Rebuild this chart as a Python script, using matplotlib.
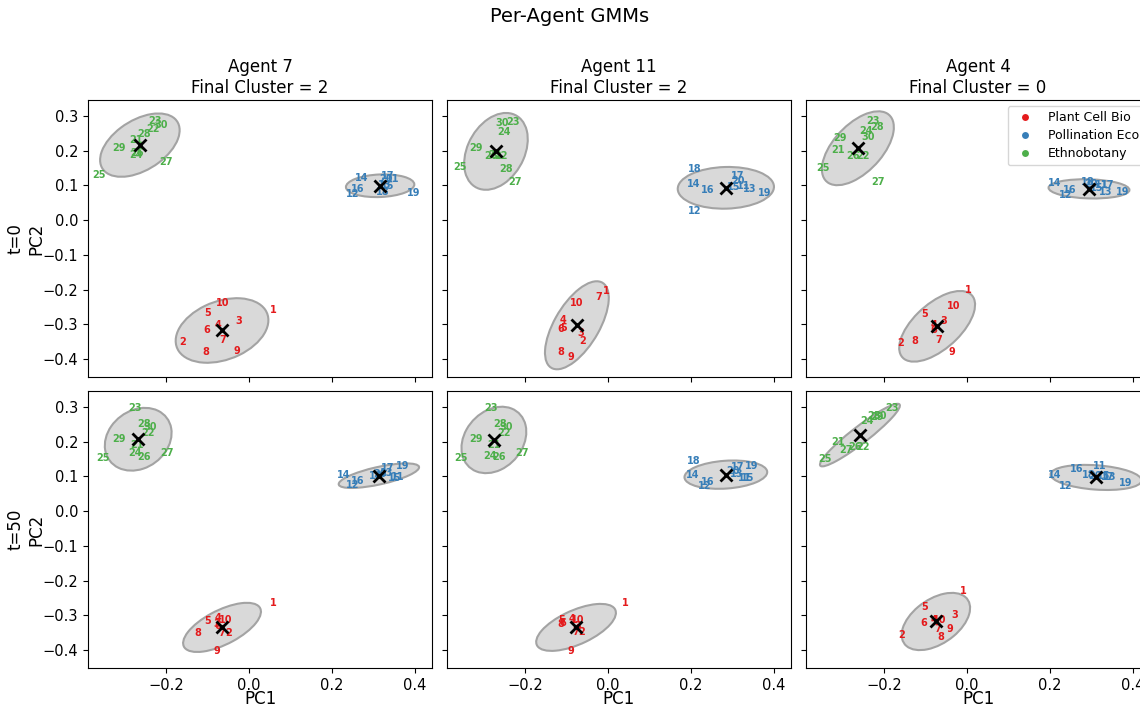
import numpy as np
import matplotlib
matplotlib.use("Agg")
import matplotlib.pyplot as plt
from matplotlib.patches import Ellipse
from matplotlib.lines import Line2D

# point labels 1..30, grouped by field
labels = list(range(1, 31))
groups = ["Plant Cell Bio", "Pollination Eco", "Ethnobotany"]
group_colors = ["#e41a1c", "#377eb8", "#4daf4a"]

agents = [7, 11, 4]
final_clusters = [2, 2, 0]
times = [0, 50]

# PC coordinates per panel (index = label - 1)
x_a7_t0 = [0.058, -0.159, -0.024, -0.075, -0.099, -0.101, -0.063, -0.104, -0.029, -0.063,
           0.347, 0.251, 0.328, 0.272, 0.335, 0.263, 0.335, 0.323, 0.398, 0.330,
           -0.272, -0.231, -0.227, -0.272, -0.361, -0.270, -0.200, -0.253, -0.313, -0.212]
y_a7_t0 = [-0.259, -0.350, -0.292, -0.303, -0.268, -0.318, -0.344, -0.379, -0.376, -0.239,
           0.117, 0.076, 0.102, 0.122, 0.099, 0.090, 0.128, 0.082, 0.079, 0.117,
           0.230, 0.262, 0.286, 0.187, 0.131, 0.192, 0.166, 0.248, 0.207, 0.274]

x_a11_t0 = [-0.005, -0.060, -0.065, -0.108, -0.108, -0.113, -0.022, -0.113, -0.089, -0.075,
            0.328, 0.210, 0.342, 0.207, 0.304, 0.241, 0.313, 0.210, 0.378, 0.313,
            -0.272, -0.258, -0.229, -0.251, -0.357, -0.282, -0.224, -0.246, -0.318, -0.255]
y_a11_t0 = [-0.204, -0.347, -0.324, -0.289, -0.312, -0.315, -0.222, -0.379, -0.394, -0.239,
            0.099, 0.026, 0.090, 0.105, 0.096, 0.087, 0.128, 0.146, 0.079, 0.114,
            0.187, 0.184, 0.283, 0.254, 0.152, 0.184, 0.111, 0.146, 0.207, 0.280]

x_a4_t0 = [0.002, -0.159, -0.055, -0.080, -0.101, -0.080, -0.067, -0.125, -0.036, -0.031,
           0.325, 0.239, 0.335, 0.212, 0.313, 0.248, 0.340, 0.292, 0.376, 0.299,
           -0.311, -0.251, -0.227, -0.243, -0.347, -0.275, -0.214, -0.217, -0.306, -0.239]
y_a4_t0 = [-0.201, -0.353, -0.292, -0.303, -0.271, -0.318, -0.344, -0.347, -0.379, -0.248,
           0.102, 0.073, 0.082, 0.108, 0.093, 0.087, 0.102, 0.111, 0.082, 0.105,
           0.201, 0.184, 0.286, 0.257, 0.149, 0.184, 0.111, 0.268, 0.236, 0.239]

x_a7_t50 = [0.058, -0.048, -0.077, -0.075, -0.099, -0.075, -0.065, -0.123, -0.077, -0.055,
            0.359, 0.251, 0.333, 0.227, 0.352, 0.263, 0.335, 0.306, 0.371, 0.316,
            -0.270, -0.243, -0.275, -0.275, -0.352, -0.253, -0.198, -0.253, -0.313, -0.239]
y_a7_t50 = [-0.264, -0.352, -0.324, -0.307, -0.318, -0.330, -0.352, -0.352, -0.403, -0.313,
            0.097, 0.074, 0.111, 0.105, 0.094, 0.088, 0.125, 0.102, 0.131, 0.108,
            0.190, 0.224, 0.298, 0.168, 0.153, 0.156, 0.168, 0.250, 0.207, 0.241]

x_a11_t50 = [0.041, -0.063, -0.072, -0.087, -0.111, -0.108, -0.077, -0.113, -0.089, -0.072,
             0.330, 0.234, 0.311, 0.205, 0.337, 0.241, 0.313, 0.207, 0.347, 0.301,
             -0.275, -0.251, -0.282, -0.284, -0.354, -0.263, -0.207, -0.260, -0.318, -0.246]
y_a11_t50 = [-0.264, -0.349, -0.330, -0.310, -0.315, -0.321, -0.349, -0.324, -0.403, -0.313,
             0.094, 0.071, 0.108, 0.105, 0.094, 0.085, 0.128, 0.145, 0.131, 0.116,
             0.190, 0.224, 0.298, 0.159, 0.153, 0.156, 0.168, 0.250, 0.207, 0.241]

x_a4_t50 = [-0.010, -0.157, -0.029, -0.080, -0.101, -0.104, -0.070, -0.063, -0.041, -0.067,
            0.320, 0.239, 0.345, 0.212, 0.330, 0.265, 0.340, 0.294, 0.383, 0.308,
            -0.311, -0.251, -0.181, -0.241, -0.342, -0.270, -0.292, -0.224, -0.217, -0.210]
y_a4_t50 = [-0.230, -0.358, -0.298, -0.313, -0.276, -0.321, -0.341, -0.364, -0.341, -0.315,
            0.131, 0.071, 0.099, 0.105, 0.102, 0.122, 0.099, 0.105, 0.080, 0.102,
            0.199, 0.185, 0.298, 0.259, 0.151, 0.185, 0.176, 0.273, 0.270, 0.273]

# GMM components per panel: (cx, cy, width, height, angle) for red, blue, green
gmm_a7_t0 = [(-0.065, -0.318, 0.24, 0.164, 30), (0.316, 0.099, 0.165, 0.065, 3), (-0.263, 0.216, 0.227, 0.136, 42)]
gmm_a11_t0 = [(-0.075, -0.303, 0.275, 0.111, 65), (0.284, 0.093, 0.232, 0.12, 2), (-0.270, 0.198, 0.23, 0.14, 70)]
gmm_a4_t0 = [(-0.072, -0.306, 0.246, 0.12, 50), (0.294, 0.090, 0.195, 0.055, -2), (-0.263, 0.207, 0.245, 0.124, 55)]
gmm_a7_t50 = [(-0.065, -0.335, 0.215, 0.095, 33), (0.313, 0.102, 0.2, 0.05, 15), (-0.267, 0.207, 0.19, 0.15, 60)]
gmm_a11_t50 = [(-0.077, -0.335, 0.215, 0.095, 30), (0.284, 0.105, 0.2, 0.08, 5), (-0.275, 0.205, 0.2, 0.145, 65)]
gmm_a4_t50 = [(-0.075, -0.318, 0.2, 0.12, 45), (0.311, 0.097, 0.22, 0.07, -5), (-0.258, 0.219, 0.26, 0.045, 43)]

panels = [
    [(x_a7_t0, y_a7_t0, gmm_a7_t0), (x_a11_t0, y_a11_t0, gmm_a11_t0), (x_a4_t0, y_a4_t0, gmm_a4_t0)],
    [(x_a7_t50, y_a7_t50, gmm_a7_t50), (x_a11_t50, y_a11_t50, gmm_a11_t50), (x_a4_t50, y_a4_t50, gmm_a4_t50)],
]

fig = plt.figure(figsize=(11.4, 7.06), dpi=100)
fig.suptitle("Per-Agent GMMs", fontsize=14, y=0.99)

lefts = [88 / 1140, 447 / 1140, 806 / 1140]
bottoms = [1 - 377 / 706, 1 - 668 / 706]
w = 344 / 1140
h = 277 / 706

axes = []
for r in range(2):
    row = []
    for c in range(3):
        ax = fig.add_axes([lefts[c], bottoms[r], w, h])
        row.append(ax)
    axes.append(row)

for r in range(2):
    for c in range(3):
        ax = axes[r][c]
        xs, ys, gmm = panels[r][c]
        for (cx, cy, ew, eh, ang) in gmm:
            ell = Ellipse((cx, cy), ew, eh, angle=ang, facecolor="#d9d9d9",
                          edgecolor="#a3a3a3", linewidth=1.5, zorder=1)
            ax.add_patch(ell)
        for i, lab in enumerate(labels):
            g = (lab - 1) // 10
            ax.text(xs[i], ys[i], str(lab), color=group_colors[g], fontsize=7,
                    fontweight="bold", ha="center", va="center", zorder=3)
        for (cx, cy, ew, eh, ang) in gmm:
            ax.plot(cx, cy, marker="x", color="black", markersize=9, mew=2, zorder=4)

        ax.set_xlim(-0.388, 0.441)
        ax.set_ylim(-0.452, 0.346)
        ax.set_xticks([-0.2, 0.0, 0.2, 0.4])
        ax.set_yticks([0.3, 0.2, 0.1, 0.0, -0.1, -0.2, -0.3, -0.4])
        ax.tick_params(labelsize=10.5)
        if r == 0:
            ax.set_title(f"Agent {agents[c]}\nFinal Cluster = {final_clusters[c]}", fontsize=12, pad=5)
            ax.tick_params(labelbottom=False)
        else:
            ax.set_xlabel("PC1", fontsize=12)
            ax.xaxis.set_label_coords(0.5, -0.08)
        if c == 0:
            ax.set_ylabel(f"t={times[r]}\nPC2", fontsize=12)
            ax.yaxis.set_label_coords(-0.125, 0.5)
        else:
            ax.tick_params(labelleft=False)

handles = [Line2D([0], [0], marker="o", color="w", markerfacecolor=col, markersize=6, label=g)
           for g, col in zip(groups, group_colors)]
axes[0][2].legend(handles=handles, loc="upper right", fontsize=9, labelspacing=0.4)

plt.savefig("out.png", dpi=100)
